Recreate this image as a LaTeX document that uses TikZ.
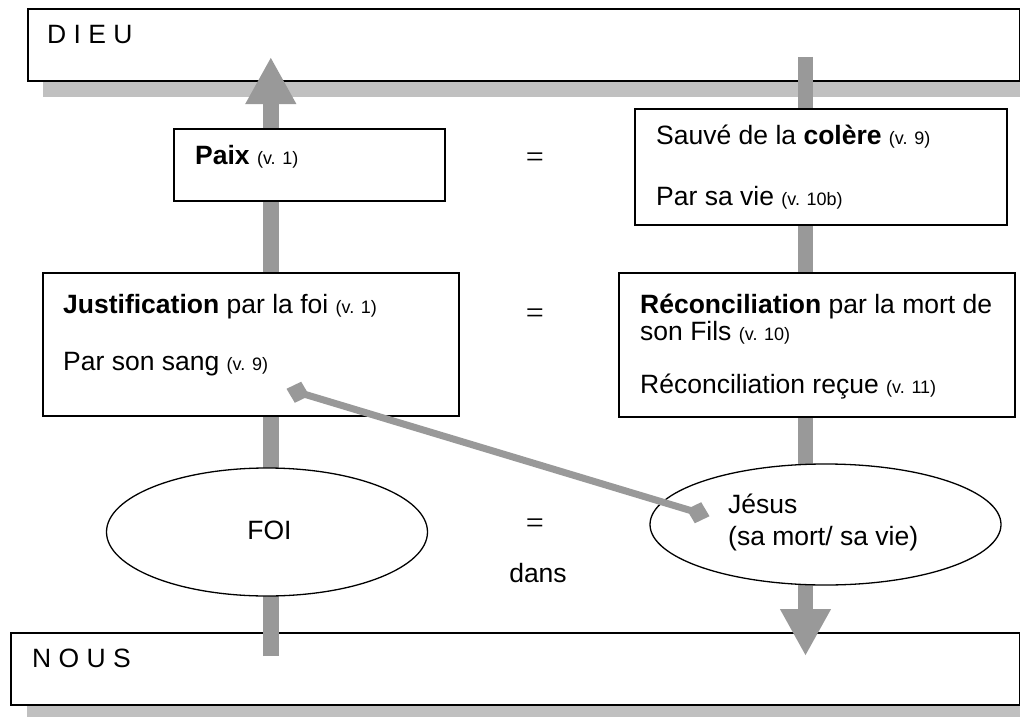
\documentclass[tikz,border=0pt]{standalone}
\usepackage{fontspec}
\setmainfont{Liberation Sans}
\newfontfamily\eqfont{Liberation Serif}
\usetikzlibrary{arrows.meta,shapes.geometric}
\definecolor{shaftgray}{HTML}{999999}
\definecolor{shadowgray}{HTML}{C0C0C0}
\newcommand\vref[1]{{\fontsize{18}{21}\selectfont #1}}
\begin{document}
\begin{tikzpicture}[x=1pt,y=-1pt,
  bigbox/.style={draw=black,line width=1.6pt,fill=white,rectangle,inner sep=0pt,anchor=north west},
  oval/.style={draw=black,line width=1.3pt,fill=white,ellipse,inner sep=0pt},
  txt/.style={anchor=base west,inner sep=0pt,font=\fontsize{26.5}{32}\selectfont},
  ctxt/.style={anchor=base,inner sep=0pt,font=\fontsize{26.5}{32}\selectfont},
  eqsign/.style={inner sep=0pt,font=\eqfont\fontsize{32}{36}\selectfont},
  blockarrow/.style={draw=shaftgray,line width=15.6pt,-{Triangle[length=47pt,width=47.5pt,fill=shaftgray]}},
  linkline/.style={draw=shaftgray,line width=7pt,{Diamond[length=24pt,width=22pt,fill=shaftgray]}-{Diamond[length=24pt,width=22pt,fill=shaftgray]}}]
\clip (0,0) rectangle (1020,717);
\fill[white] (0,0) rectangle (1020,717);
% top and bottom boxes with shadows
\fill[shadowgray] (43,24) rectangle (1036,97);
\node[bigbox,minimum width=992pt,minimum height=72pt] (dieu) at (27,8) {};
\fill[shadowgray] (27,648) rectangle (1036,720);
\node[bigbox,minimum width=1009pt,minimum height=72pt] (nous) at (10,632) {};
\node[txt] (dieuT) at (47,44) {D I E U};
\node[txt] (nousT) at (32,667) {N O U S};
% vertical block arrows
\coordinate (upfrom) at (270.8,656);
\coordinate (upto) at (270.8,57);
\coordinate (downfrom) at (805.5,57);
\coordinate (downto) at (805.5,656);
\draw[blockarrow] (upfrom) -- (upto);
\draw[blockarrow] (downfrom) -- (downto);
% middle boxes
\node[bigbox,minimum width=271pt,minimum height=72pt] (paix) at (173,128) {};
\node[bigbox,minimum width=372pt,minimum height=116pt] (sauve) at (634,108) {};
\node[bigbox,minimum width=416pt,minimum height=143pt] (justif) at (42,272) {};
\node[bigbox,minimum width=396pt,minimum height=144pt] (recon) at (618,272) {};
\node[oval,minimum width=321pt,minimum height=128pt] (foi) at (267,532) {};
\node[oval,minimum width=351pt,minimum height=121pt] (jesus) at (825.5,524.5) {};
% texts
\node[txt] (paixT) at (195,164) {\textbf{Paix} \vref{(v. 1)}};
\node[txt] (sauveA) at (656,144) {Sauvé de la \textbf{colère} \vref{(v. 9)}};
\node[txt] (sauveB) at (656,205) {Par sa vie \vref{(v. 10b)}};
\node[txt] (justA) at (63,313) {\textbf{Justification} par la foi \vref{(v. 1)}};
\node[txt] (justB) at (63,370) {Par son sang \vref{(v. 9)}};
\node[txt] (recA) at (640,313) {\textbf{Réconciliation} par la mort de};
\node[txt] (recB) at (640,340) {son Fils \vref{(v. 10)}};
\node[txt] (recC) at (640,393) {Réconciliation reçue \vref{(v. 11)}};
\node[eqsign] (eqA) at (535,160) {=};
\node[eqsign] (eqB) at (535,316) {=};
\node[eqsign] (eqC) at (535,526) {=};
\node[ctxt] (dans) at (538,582) {dans};
\node[ctxt] (foiT) at (269.5,539) {FOI};
\node[txt] (jesA) at (728,513) {Jésus};
\node[txt] (jesB) at (728,545) {(sa mort/ sa vie)};
% link between blood and Jesus
\coordinate (linkA) at (286.5,388.8);
\coordinate (linkB) at (709.5,516.2);
\draw[linkline] (linkA) -- (linkB);
\end{tikzpicture}
\end{document}
